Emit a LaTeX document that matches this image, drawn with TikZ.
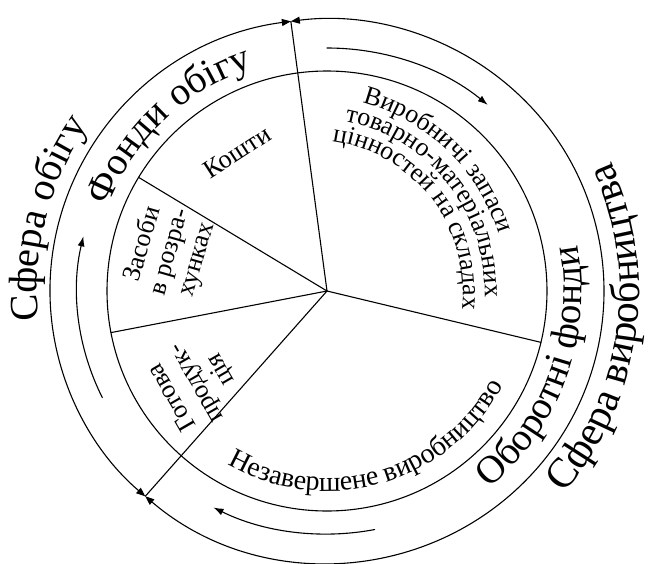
\documentclass[tikz,border=0pt]{standalone}
\usepackage{fontspec}
\setmainfont{Liberation Serif}
\usetikzlibrary{arrows.meta,decorations.text}

\newcommand\sferafont{\fontsize{40}{40}\selectfont}
\newcommand\vyrobfont{\fontsize{42}{42}\selectfont}
\newcommand\fondfont{\fontsize{39}{39}\selectfont}
\newcommand\piefont{\fontsize{26}{28}\selectfont}
\newcommand\bottomfont{\fontsize{28}{28}\selectfont}

\begin{document}
\begin{tikzpicture}[x=1pt, y=1pt, line width=1.1pt, line join=round, line cap=round,
  bothtips/.style={{Triangle[length=9pt,width=7pt]}-{Triangle[length=9pt,width=7pt]}},
  flow/.style={-{Latex[length=10pt,width=7pt]}},
  arctext/.style={decorate, decoration={text along path, text align=center, text={#1}}}]
\useasboundingbox (-327,-272) rectangle (328,291);
\coordinate (O) at (0,0);
\coordinate (T) at (97.5:277pt and 272pt);
\coordinate (B) at (229:277pt and 272pt);
\coordinate (P1) at (148.9:220pt);
\coordinate (P2) at (190.9:220pt);
\coordinate (P3) at (-13.5:220pt);
\coordinate (M) at (-15,0);
\draw (O) circle[radius=220pt];
\draw (O) -- (T);
\draw (O) -- (B);
\draw (O) -- (P1);
\draw (O) -- (P2);
\draw (O) -- (P3);
\draw[bothtips] (T) arc[start angle=97.5, end angle=229, x radius=277pt, y radius=272pt];
\draw[bothtips] (B) arc[start angle=-131, end angle=97.5, x radius=277pt, y radius=272pt];
\draw[flow] (90:250pt and 243pt) arc[start angle=90, end angle=50, x radius=250pt, y radius=243pt];
\draw[flow] (206:250pt and 243pt) arc[start angle=206, end angle=167, x radius=250pt, y radius=243pt];
\draw[flow] (281:250pt and 243pt) arc[start angle=281, end angle=243, x radius=250pt, y radius=243pt];
\path[arctext={|\sferafont|Сфера обігу}] (225.5:290pt) arc[start angle=225.5, end angle=105.5, radius=290pt];
\path[arctext={|\vyrobfont|Сфера виробництва}] (-78:312pt) arc[start angle=-78, end angle=62, radius=312pt];
\path[arctext={|\fondfont|Фонди обігу}] (193.6:235pt) arc[start angle=193.6, end angle=73.6, radius=235pt];
\path[arctext={|\fondfont|Оборотні фонди}] (-90:255pt) arc[start angle=-90, end angle=50, radius=255pt];
\path[arctext={|\bottomfont|Незавершене виробництво}] (211:200pt) arc[start angle=211, end angle=361, radius=200pt];
\path[arctext={|\piefont|Виробничі запаси}] (M) ++(116:195pt) arc[start angle=116, end angle=-24, radius=195pt];
\path[arctext={|\piefont|товарно-матеріальних}] (M) ++(108.5:173pt) arc[start angle=108.5, end angle=-31.5, radius=173pt];
\path[arctext={|\piefont|цінностей на складах}] (M) ++(107.7:151pt) arc[start angle=107.7, end angle=-32.3, radius=151pt];
\node[font=\piefont, rotate=33] (koshty) at (-90,139) {Кошти};
\node[font=\piefont, rotate=74, align=center] (zasoby) at (-157,39) {Засоби\\в розра-\\хунках};
\node[font=\piefont, rotate=120, align=center] (gotova) at (-130,-92) {Готова\\продук-\\ція};
\end{tikzpicture}
\end{document}
